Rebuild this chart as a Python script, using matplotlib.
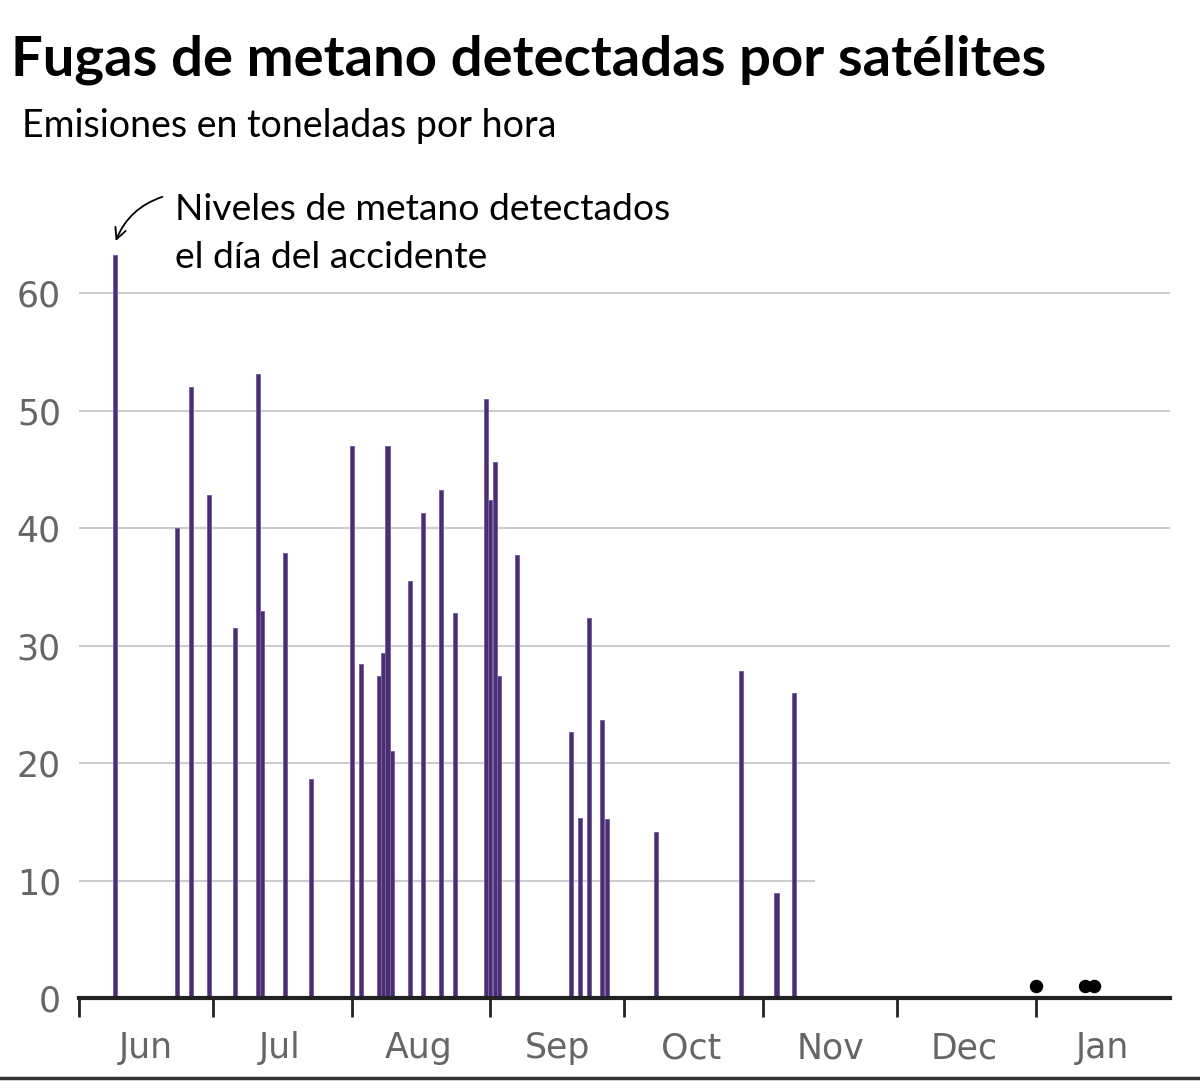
import datetime as dt
import matplotlib.pyplot as plt
import matplotlib.dates as mdates

# Datos: fechas de detección y emisiones (t/h)
fechas = ['2023-06-09', '2023-06-23', '2023-06-26', '2023-06-30',
          '2023-07-06', '2023-07-11', '2023-07-12', '2023-07-17', '2023-07-23',
          '2023-08-01', '2023-08-03', '2023-08-07', '2023-08-08', '2023-08-09',
          '2023-08-10', '2023-08-14', '2023-08-17', '2023-08-21', '2023-08-24',
          '2023-08-31', '2023-09-01', '2023-09-02', '2023-09-03', '2023-09-07',
          '2023-09-19', '2023-09-21', '2023-09-23', '2023-09-26', '2023-09-27',
          '2023-10-08', '2023-10-27', '2023-11-04', '2023-11-08']
emisiones = [63.2, 40.0, 52.0, 42.8,
             31.5, 53.1, 32.9, 37.9, 18.6,
             47.0, 28.4, 27.4, 29.4, 47.0,
             21.0, 35.5, 41.3, 43.2, 32.8,
             51.0, 42.4, 45.6, 27.4, 37.7,
             22.6, 15.3, 32.3, 23.7, 15.2,
             14.1, 27.8, 8.9, 26.0]

# Detecciones sin fuga apreciable
fechas_puntos = ['2024-01-01', '2024-01-12', '2024-01-14']
valores_puntos = [1.0, 1.0, 1.0]

meses = ['Jun', 'Jul', 'Aug', 'Sep', 'Oct', 'Nov', 'Dec', 'Jan']
ticks_y = [0, 10, 20, 30, 40, 50, 60]

fechas = [dt.datetime.fromisoformat(f) for f in fechas]
fechas_puntos = [dt.datetime.fromisoformat(f) for f in fechas_puntos]

plt.rcParams['font.family'] = ['DejaVu Sans']

fig = plt.figure(figsize=(12, 10.88), dpi=100)
ax = fig.add_axes([0.0658, 0.0827, 0.9092, 0.7020])

inicio = dt.datetime(2023, 6, 1)
fin = dt.datetime(2024, 1, 31)

# Líneas de referencia (la de 10 es más corta)
for v in ticks_y[1:]:
    if v == 10:
        ax.hlines(v, inicio, dt.datetime(2023, 11, 12, 14), color='#cccccc', lw=1.5, zorder=0)
    else:
        ax.hlines(v, inicio, fin, color='#cccccc', lw=1.5, zorder=0)

ax.bar(fechas, emisiones, width=0.9, color='#4b2e70', edgecolor='#7b62a8',
       linewidth=0.7, zorder=2)
ax.scatter(fechas_puntos, valores_puntos, s=75, color='black', zorder=3)

ax.set_xlim(inicio, fin)
ax.set_ylim(0, 65)

for s in ['top', 'right', 'left']:
    ax.spines[s].set_visible(False)
ax.spines['bottom'].set_linewidth(3)
ax.spines['bottom'].set_color('#222222')
ax.spines['bottom'].set_zorder(4)

# Ticks de meses: marcas en el 1 de cada mes, etiquetas a mitad de mes
ax.xaxis.set_major_locator(mdates.MonthLocator())
ax.xaxis.set_major_formatter(plt.NullFormatter())
ax.xaxis.set_minor_locator(mdates.MonthLocator(bymonthday=16))
ax.xaxis.set_minor_formatter(plt.FixedFormatter(meses))
ax.tick_params(axis='x', which='major', length=14, width=2, color='#222222')
ax.tick_params(axis='x', which='minor', length=0, pad=24, labelsize=25, labelcolor='#666666')

ax.set_yticks(ticks_y)
ax.tick_params(axis='y', length=0, pad=13, labelsize=25, labelcolor='#666666')

# Títulos
fig.text(0.009, 0.931, 'Fugas de metano detectadas por satélites', fontsize=40.5,
         fontweight='bold', family=['Lato', 'DejaVu Sans'], va='baseline')
fig.text(0.018, 0.874, 'Emisiones en toneladas por hora', fontsize=27,
         family=['Lato', 'DejaVu Sans'], va='baseline')

# Anotación
fig.text(0.146, 0.798, 'Niveles de metano detectados', fontsize=26.8,
         family=['Lato', 'DejaVu Sans'], va='baseline')
fig.text(0.146, 0.754, 'el día del accidente', fontsize=26.8,
         family=['Lato', 'DejaVu Sans'], va='baseline')
ax.annotate('', xy=(fechas[0], 64.2), xytext=(165, 1088 - 196),
            textcoords='figure pixels',
            arrowprops=dict(arrowstyle='->', color='black', lw=1.3,
                            connectionstyle='arc3,rad=0.25', mutation_scale=20))

# Línea separadora inferior
fig.add_artist(plt.Line2D([0, 1], [0.009, 0.009], color='#333333', lw=2.5))

plt.savefig('out.png', dpi=100)
